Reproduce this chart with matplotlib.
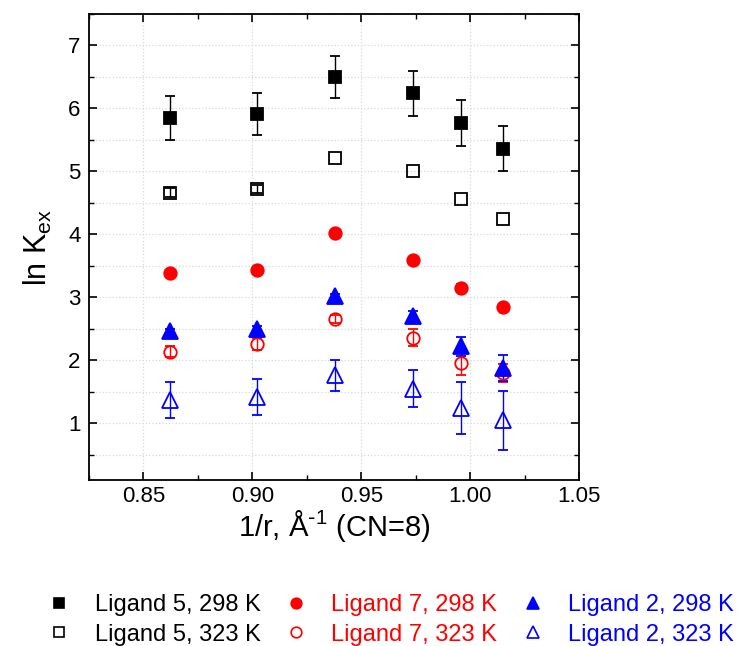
import matplotlib.pyplot as plt
import numpy as np
from matplotlib.lines import Line2D
from matplotlib.ticker import MultipleLocator

plt.rcParams['font.family'] = ['Liberation Sans', 'DejaVu Sans']

# 1/r values (CN=8)
inv_r = [0.862, 0.902, 0.938, 0.974, 0.996, 1.015]

# ln Kex values and errors
lig5_298 = [5.85, 5.91, 6.50, 6.24, 5.77, 5.36]
lig5_298_err = [0.35, 0.33, 0.34, 0.36, 0.37, 0.36]
lig5_323 = [4.66, 4.72, 5.21, 5.00, 4.57, 4.24]
lig5_323_err = [0.07, 0.07, 0.0, 0.0, 0.0, 0.0]

lig7_298 = [3.38, 3.44, 4.02, 3.60, 3.15, 2.84]
lig7_298_err = [0.03, 0.03, 0.03, 0.03, 0.07, 0.05]
lig7_323 = [2.14, 2.26, 2.66, 2.36, 1.96, 1.80]
lig7_323_err = [0.08, 0.10, 0.06, 0.14, 0.20, 0.15]

lig2_298 = [2.46, 2.49, 3.02, 2.71, 2.22, 1.88]
lig2_298_err = [0.03, 0.05, 0.03, 0.08, 0.15, 0.20]
lig2_323 = [1.37, 1.42, 1.76, 1.55, 1.24, 1.05]
lig2_323_err = [0.29, 0.29, 0.25, 0.29, 0.41, 0.47]

fig = plt.figure(figsize=(7.39, 6.46), dpi=100)
ax = fig.add_axes([89/739, 1-480/646, 490/739, 466/646])

series = [
    (lig5_298, lig5_298_err, 's', 'black', True, 8, 'Ligand 5, 298 K'),
    (lig5_323, lig5_323_err, 's', 'black', False, 8, 'Ligand 5, 323 K'),
    (lig7_298, lig7_298_err, 'o', 'red', True, 9, 'Ligand 7, 298 K'),
    (lig7_323, lig7_323_err, 'o', 'red', False, 9, 'Ligand 7, 323 K'),
    (lig2_298, lig2_298_err, '^', 'blue', True, 11, 'Ligand 2, 298 K'),
    (lig2_323, lig2_323_err, '^', 'blue', False, 11, 'Ligand 2, 323 K'),
]

handles = []
for y, err, m, c, filled, ms, lab in series:
    fc = c if filled else 'none'
    show_err = [e > 0 for e in err]
    ax.errorbar(inv_r, y, yerr=err, fmt=m, color=c, mfc=fc, mec=c, ms=ms,
                mew=1.3, ecolor=c, elinewidth=1.0, capsize=3.5, capthick=1.0,
                errorevery=show_err, zorder=3)
    handles.append(Line2D([], [], linestyle='none', marker=m, color=c,
                          mfc=fc, mec=c, ms=ms * 0.85, mew=1.2, label=lab))

ax.set_xlim(0.825, 1.05)
ax.set_ylim(0.1, 7.5)
ax.xaxis.set_minor_locator(MultipleLocator(0.025))
ax.yaxis.set_major_locator(MultipleLocator(1))
ax.yaxis.set_minor_locator(MultipleLocator(0.5))
ax.set_xticks([0.85, 0.90, 0.95, 1.00, 1.05])
ax.set_xticklabels(['0.85', '0.90', '0.95', '1.00', '1.05'])

ax.tick_params(which='both', direction='in', top=True, right=True, labelsize=16)
ax.tick_params(which='major', length=6, width=1.2)
ax.tick_params(which='minor', length=3.5, width=1.0)
ax.tick_params(axis='x', pad=4)
ax.tick_params(axis='y', pad=6)
for s in ax.spines.values():
    s.set_linewidth(1.3)

ax.grid(True, which='major', axis='x', color='#d8d8d8', linestyle=':', linewidth=0.9)
ax.grid(True, which='both', axis='y', color='#d8d8d8', linestyle=':', linewidth=0.9)
ax.set_axisbelow(True)

ax.set_xlabel('1/r, Å$^{\\mathregular{\\text{-}1}}$ (CN=8)', fontsize=21)
ax.xaxis.set_label_coords(0.5, -0.06)
ax.set_ylabel('ln K$_{\\mathregular{ex}}$', fontsize=22, labelpad=10)

leg = fig.legend(handles=handles, ncol=3, loc='center left',
                 bbox_to_anchor=(38/739, 26/646), frameon=False, fontsize=17,
                 handletextpad=1.0, columnspacing=1.0, labelspacing=0.3,
                 handlelength=1.0, borderaxespad=0)
for txt, (_, _, _, c, _, _, _) in zip(leg.get_texts(), series):
    txt.set_color(c)

fig.savefig('out.png', dpi=100)
